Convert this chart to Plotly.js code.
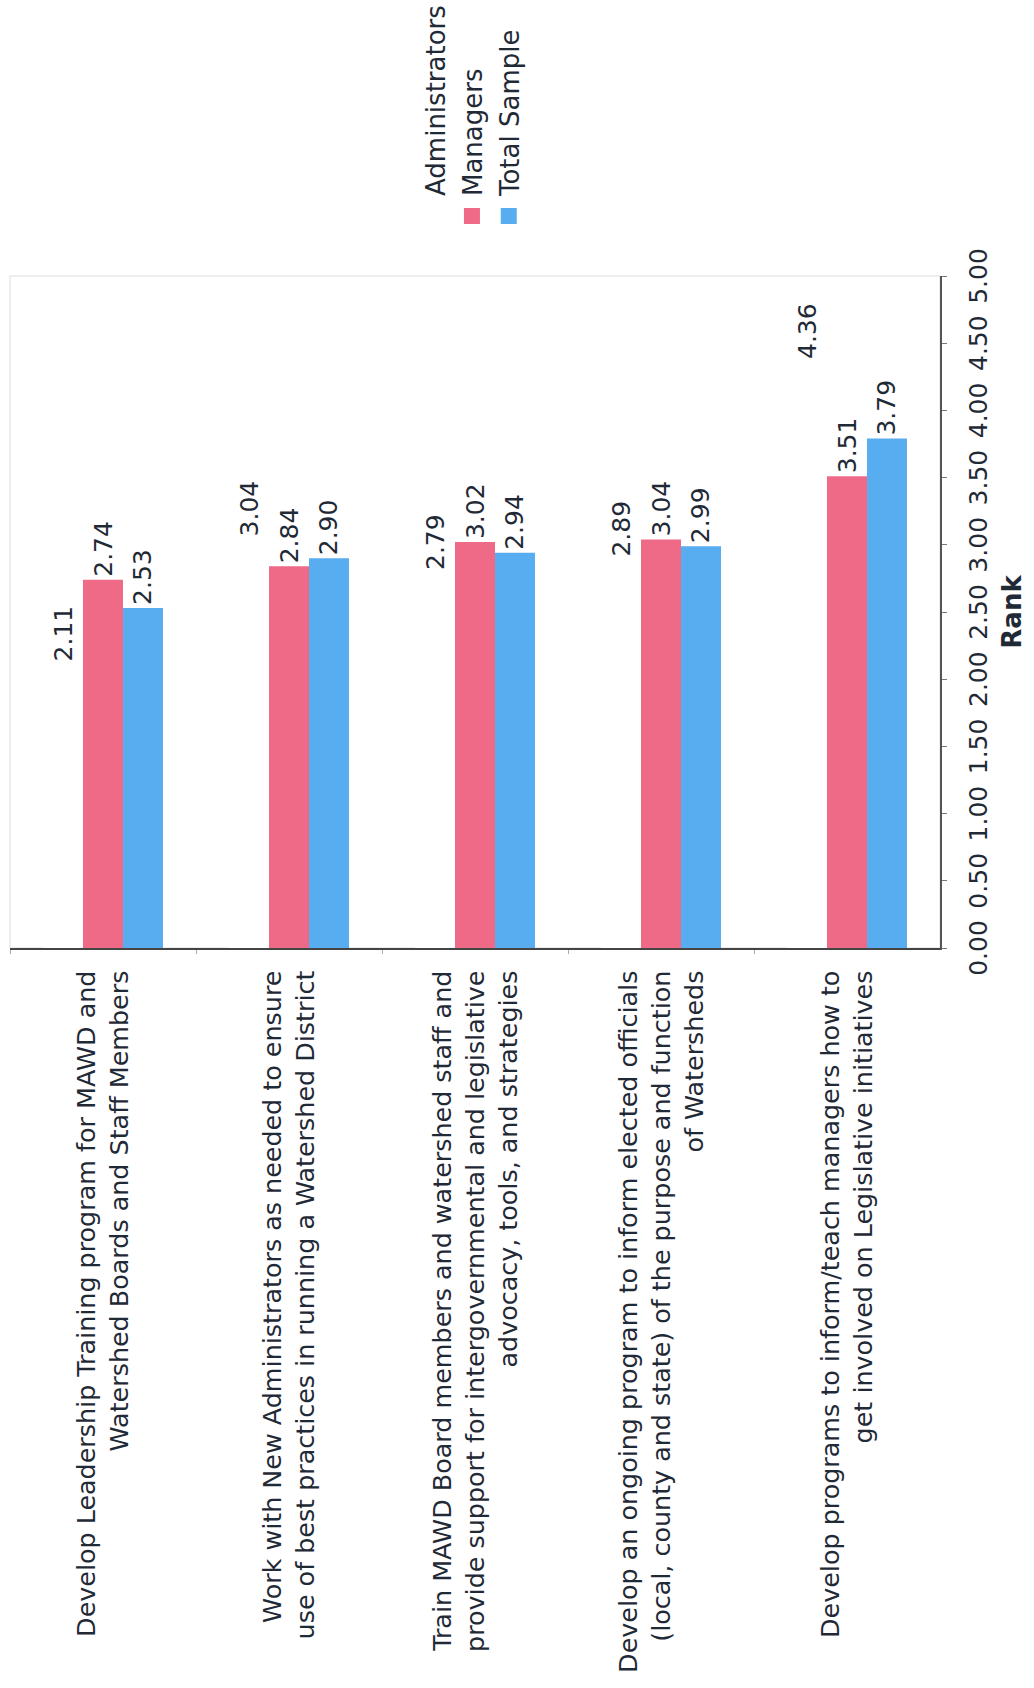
<!DOCTYPE html>
<html>
<head>
<meta charset="utf-8">
<script src="https://cdn.plot.ly/plotly-3.0.1.min.js"></script>
<style>
  html, body { margin:0; padding:0; background:#ffffff; overflow:hidden; }
  #wrap { position:absolute; left:0; top:0; width:1688px; height:1034px;
          transform-origin:0 0; transform:translate(0px,1688px) rotate(-90deg); }
  #chart { width:1688px; height:1034px; }
</style>
</head>
<body>
<div id="wrap"><div id="chart"></div></div>
<script>
const categories = [
  "Develop Leadership Training program for MAWD and<br>Watershed Boards and Staff Members",
  "Work with New Administrators as needed to ensure<br>use of best practices in running a Watershed District",
  "Train MAWD Board members and watershed staff and<br>provide support for intergovernmental and legislative<br>advocacy, tools, and strategies",
  "Develop an ongoing program to inform elected officials<br>(local, county and state) of the purpose and function<br>of Watersheds",
  "Develop programs to inform/teach managers how to<br>get involved on Legislative initiatives"
];
const seriesNames = ["Administrators", "Managers", "Total Sample"];
const administrators = [2.11, 3.04, 2.79, 2.89, 4.36];
const managers = [2.74, 2.84, 3.02, 3.04, 3.51];
const totalSample = [2.53, 2.90, 2.94, 2.99, 3.79];
const seriesColors = ["#ffffff", "#ee6a86", "#58acf0"];
const rankTicks = [0, 0.5, 1, 1.5, 2, 2.5, 3, 3.5, 4, 4.5, 5];

const FONT = "'DejaVu Sans', Verdana, sans-serif";
const TXT = "#1f2a36";

const values = [administrators, managers, totalSample];
const barTraces = values.map((v, i) => ({
  type: "bar",
  orientation: "h",
  name: seriesNames[i],
  y: categories,
  x: v,
  marker: { color: seriesColors[i], line: { width: 0 } },
  texttemplate: "%{x:.2f}",
  textposition: "outside",
  textfont: { family: FONT, size: 25, color: TXT },
  cliponaxis: false,
  showlegend: false,
  hoverinfo: "none"
}));
// legend entries (square swatches)
const legendTraces = seriesNames.map((n, i) => ({
  type: "scatter",
  mode: "markers",
  name: n,
  x: [null],
  y: [null],
  marker: { symbol: "square", size: 16, color: seriesColors[i] },
  showlegend: true,
  hoverinfo: "none"
}));

const layout = {
  width: 1688,
  height: 1034,
  margin: { l: 740, r: 276, t: 10, b: 94, autoexpand: false },
  paper_bgcolor: "#ffffff",
  plot_bgcolor: "#ffffff",
  barmode: "group",
  bargap: 0.355,
  bargroupgap: 0,
  font: { family: FONT, color: TXT, size: 26 },
  xaxis: {
    range: [0, 5],
    tickvals: rankTicks,
    tickformat: ".2f",
    showgrid: false,
    zeroline: false,
    showline: true,
    linecolor: "#555555",
    linewidth: 1.5,
    ticks: "outside",
    ticklen: 5,
    tickcolor: "#777777",
    ticklabelstandoff: 10,
    tickfont: { family: FONT, size: 25, color: TXT },
    title: { text: "<b>Rank</b>", font: { family: FONT, size: 26, color: TXT }, standoff: 11 }
  },
  yaxis: {
    autorange: "reversed",
    type: "category",
    showgrid: false,
    zeroline: false,
    showline: true,
    linecolor: "#444444",
    linewidth: 1.5,
    ticks: "outside",
    tickson: "boundaries",
    ticklen: 4,
    tickcolor: "#aaaaaa",
    ticklabelstandoff: 16,
    tickfont: { family: FONT, size: 25.4, color: TXT }
  },
  showlegend: true,
  legend: {
    x: (1452 - 740) / 672,
    xanchor: "left",
    y: 0.568,
    yanchor: "top",
    traceorder: "normal",
    font: { family: FONT, size: 26, color: TXT },
    itemwidth: 30,
    bgcolor: "rgba(0,0,0,0)"
  },
  shapes: [{
    type: "rect", xref: "paper", yref: "paper", x0: 0, x1: 1, y0: 0, y1: 1,
    line: { color: "#dddddd", width: 1 }, layer: "below"
  }]
};

Plotly.newPlot("chart", barTraces.concat(legendTraces), layout, { staticPlot: true, displayModeBar: false });
</script>
</body>
</html>
